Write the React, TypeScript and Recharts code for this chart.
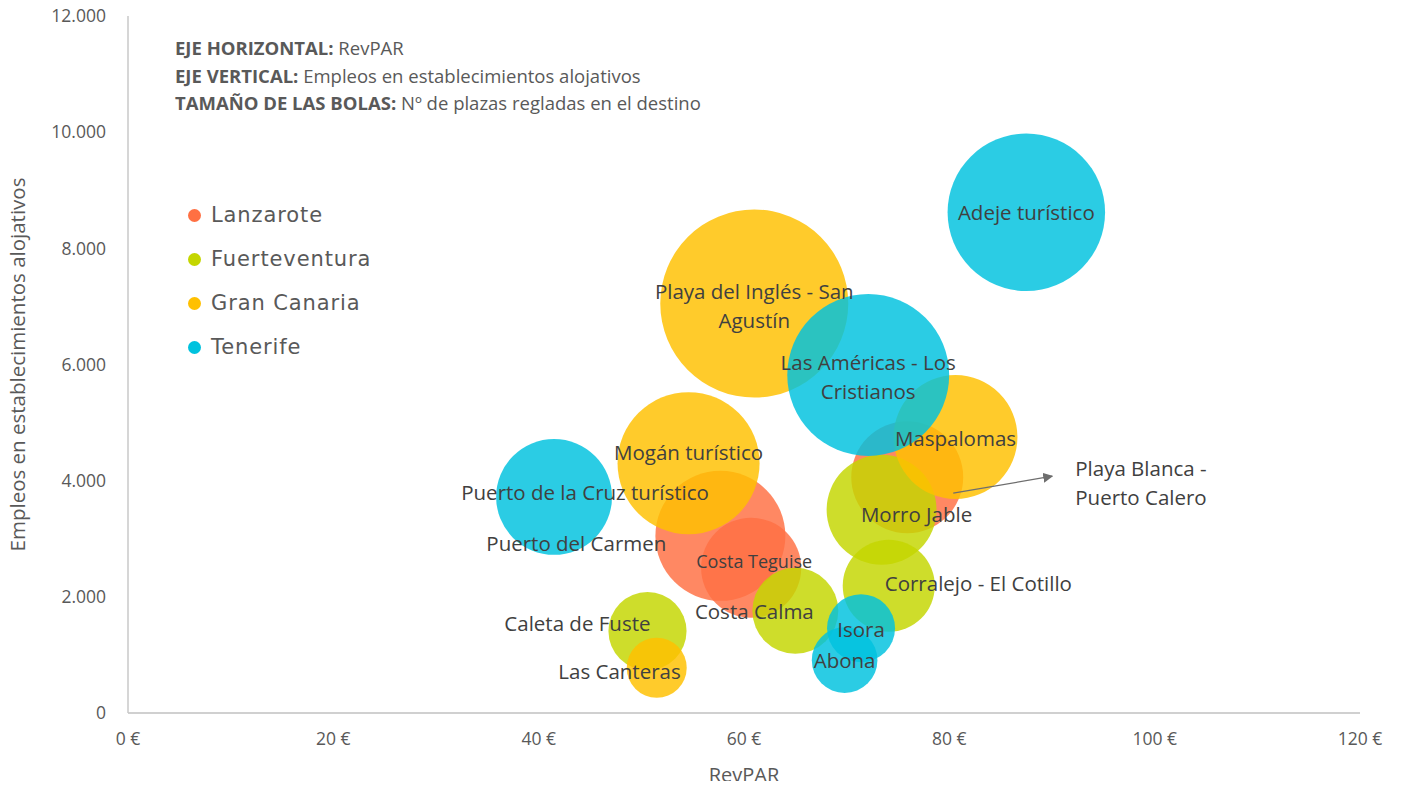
import React from "react"
import { ScatterChart, Scatter, XAxis, YAxis, ZAxis } from "recharts"

// RevPAR (€), empleos, plazas regladas
const lanzarote = [
  { name: "Puerto del Carmen", revpar: 57.7, empleos: 3050, plazas: 26300 },
  { name: "Costa Teguise", revpar: 60.7, empleos: 2500, plazas: 15600 },
  { name: "Playa Blanca - Puerto Calero", revpar: 75.9, empleos: 4060, plazas: 19500 },
]

const fuerteventura = [
  { name: "Morro Jable", revpar: 73.4, empleos: 3500, plazas: 18800 },
  { name: "Corralejo - El Cotillo", revpar: 74.1, empleos: 2190, plazas: 13200 },
  { name: "Costa Calma", revpar: 65.0, empleos: 1760, plazas: 11500 },
  { name: "Caleta de Fuste", revpar: 50.6, empleos: 1410, plazas: 9500 },
]

const granCanaria = [
  { name: "Playa del Inglés - San Agustín", revpar: 61.0, empleos: 7050, plazas: 55000 },
  { name: "Mogán turístico", revpar: 54.6, empleos: 4300, plazas: 31400 },
  { name: "Maspalomas", revpar: 80.6, empleos: 4750, plazas: 23900 },
  { name: "Las Canteras", revpar: 51.5, empleos: 780, plazas: 5600 },
]

const tenerife = [
  { name: "Adeje turístico", revpar: 87.5, empleos: 8620, plazas: 38600 },
  { name: "Las Américas - Los Cristianos", revpar: 72.1, empleos: 5820, plazas: 40800 },
  { name: "Puerto de la Cruz turístico", revpar: 41.5, empleos: 3720, plazas: 20900 },
  { name: "Isora", revpar: 71.4, empleos: 1460, plazas: 7200 },
  { name: "Abona", revpar: 69.8, empleos: 910, plazas: 6700 },
]

const xTicks = [0, 20, 40, 60, 80, 100, 120]
const yTicks = [0, 2000, 4000, 6000, 8000, 10000, 12000]

const islands = [
  { name: "Lanzarote", data: lanzarote, color: "#FF7043" },
  { name: "Fuerteventura", data: fuerteventura, color: "#C4D600" },
  { name: "Gran Canaria", data: granCanaria, color: "#FFC000" },
  { name: "Tenerife", data: tenerife, color: "#00C2DE" },
]

const allPoints = [...lanzarote, ...fuerteventura, ...granCanaria, ...tenerife]

// label placement relative to the bubble centre
const labelPos: Record<string, { dx: number; dy: number; anchor?: string; lines?: string[]; size?: number }> = {
  "Puerto del Carmen": { dx: -54, dy: 7, anchor: "end" },
  "Costa Teguise": { dx: 3, dy: -7, size: 18 },
  "Playa Blanca - Puerto Calero": { dx: 168, dy: -9, anchor: "start", lines: ["Playa Blanca -", "Puerto Calero"] },
  "Morro Jable": { dx: 35, dy: 4 },
  "Corralejo - El Cotillo": { dx: -4, dy: -3, anchor: "start" },
  "Costa Calma": { dx: -41, dy: 0 },
  "Caleta de Fuste": { dx: 3, dy: -8, anchor: "end" },
  "Playa del Inglés - San Agustín": { dx: 0, dy: -13, lines: ["Playa del Inglés - San", "Agustín"] },
  "Mogán turístico": { dx: 0, dy: -11 },
  "Maspalomas": { dx: 0, dy: 1 },
  "Las Canteras": { dx: 24, dy: 3, anchor: "end" },
  "Adeje turístico": { dx: 0, dy: 0 },
  "Las Américas - Los Cristianos": { dx: 0, dy: -13, lines: ["Las Américas - Los", "Cristianos"] },
  "Puerto de la Cruz turístico": { dx: 31, dy: -5 },
  "Isora": { dx: 0, dy: 1 },
  "Abona": { dx: 0, dy: 0 },
}

const FONT = "'Open Sans', sans-serif"
const TXT = "#404040"
const AXIS_TXT = "#595959"

const fmtThousands = (v: number) => String(v).replace(/\B(?=(\d{3})+(?!\d))/g, ".")

function BubbleLabel(props: any) {
  const { cx, cy, payload } = props
  const p = labelPos[payload.name] || { dx: 0, dy: 0 }
  const lines = p.lines || [payload.name]
  const isArrow = payload.name === "Playa Blanca - Puerto Calero"
  return (
    <g>
      {isArrow && (
        <g>
          <defs>
            <marker id="arrowHead" markerWidth="10" markerHeight="10" refX="9" refY="5" orient="auto" markerUnits="userSpaceOnUse">
              <path d="M0,0 L10,5 L0,10 Z" fill="#6E6E6E" />
            </marker>
          </defs>
          <line x1={cx + 46} y1={cy + 16} x2={cx + 145} y2={cy - 1} stroke="#6E6E6E" strokeWidth={1.2} markerEnd="url(#arrowHead)" />
        </g>
      )}
      {lines.map((l, i) => (
        <text
          key={i}
          x={cx + p.dx}
          y={cy + p.dy + i * 29}
          textAnchor={(p.anchor as any) || "middle"}
          dominantBaseline="central"
          fontFamily={FONT}
          fontSize={p.size || 20.5}
          fill={TXT}
        >
          {l}
        </text>
      ))}
    </g>
  )
}

export default function App() {
  return (
    <div style={{ position: "relative", width: 1402, height: 789, margin: -8, background: "#fff" }}>
      <ScatterChart width={1402} height={789} margin={{ top: 16, right: 42, bottom: 0, left: 0 }}>
        <XAxis
          type="number"
          dataKey="revpar"
          domain={[0, 120]}
          ticks={xTicks}
          tickFormatter={(v) => `${v} €`}
          height={76}
          tickSize={0}
          tickMargin={20}
          axisLine={{ stroke: "#D0D0D0", strokeWidth: 2 }}
          tick={{ fontSize: 17.5, fill: AXIS_TXT, fontFamily: FONT }}
          label={{ value: "RevPAR", position: "insideBottom", offset: 7, style: { fontSize: 20, fill: AXIS_TXT, fontFamily: FONT } }}
        />
        <YAxis
          type="number"
          dataKey="empleos"
          domain={[0, 12000]}
          ticks={yTicks}
          tickFormatter={fmtThousands}
          width={128}
          tickSize={0}
          tickMargin={22}
          axisLine={{ stroke: "#C8C8C8", strokeWidth: 1.5 }}
          tick={{ fontSize: 17.5, fill: AXIS_TXT, fontFamily: FONT }}
          label={{
            value: "Empleos en establecimientos alojativos",
            angle: -90,
            position: "insideLeft",
            offset: 18,
            style: { textAnchor: "middle", fontSize: 20.5, fill: AXIS_TXT, fontFamily: FONT },
          }}
        />
        <ZAxis type="number" dataKey="plazas" domain={[0, 55000]} range={[0, 27759]} />
        {islands.map((s) => (
          <Scatter
            key={s.name}
            name={s.name}
            data={s.data}
            fill={s.color}
            fillOpacity={0.83}
            isAnimationActive={false}
          />
        ))}
        <Scatter
          name="labels"
          data={allPoints}
          legendType="none"
          shape={BubbleLabel}
          isAnimationActive={false}
        />
      </ScatterChart>
      <div
        style={{
          position: "absolute",
          left: 175,
          top: 34,
          fontFamily: FONT,
          fontSize: 18.5,
          lineHeight: "27.5px",
          color: AXIS_TXT,
        }}
      >
        <div><b>EJE HORIZONTAL:</b> RevPAR</div>
        <div><b>EJE VERTICAL:</b> Empleos en establecimientos alojativos</div>
        <div><b>TAMAÑO DE LAS BOLAS:</b> Nº de plazas regladas en el destino</div>
      </div>
      <div
        style={{
          position: "absolute",
          left: 188,
          top: 193,
          fontFamily: "'DejaVu Sans', sans-serif",
          fontSize: 21,
          letterSpacing: 0.9,
          color: AXIS_TXT,
        }}
      >
        {islands.map((s) => (
          <div key={s.name} style={{ display: "flex", alignItems: "center", height: 44 }}>
            <span style={{ width: 13, height: 13, borderRadius: "50%", background: s.color, marginRight: 10 }} />
            {s.name}
          </div>
        ))}
      </div>
    </div>
  )
}
